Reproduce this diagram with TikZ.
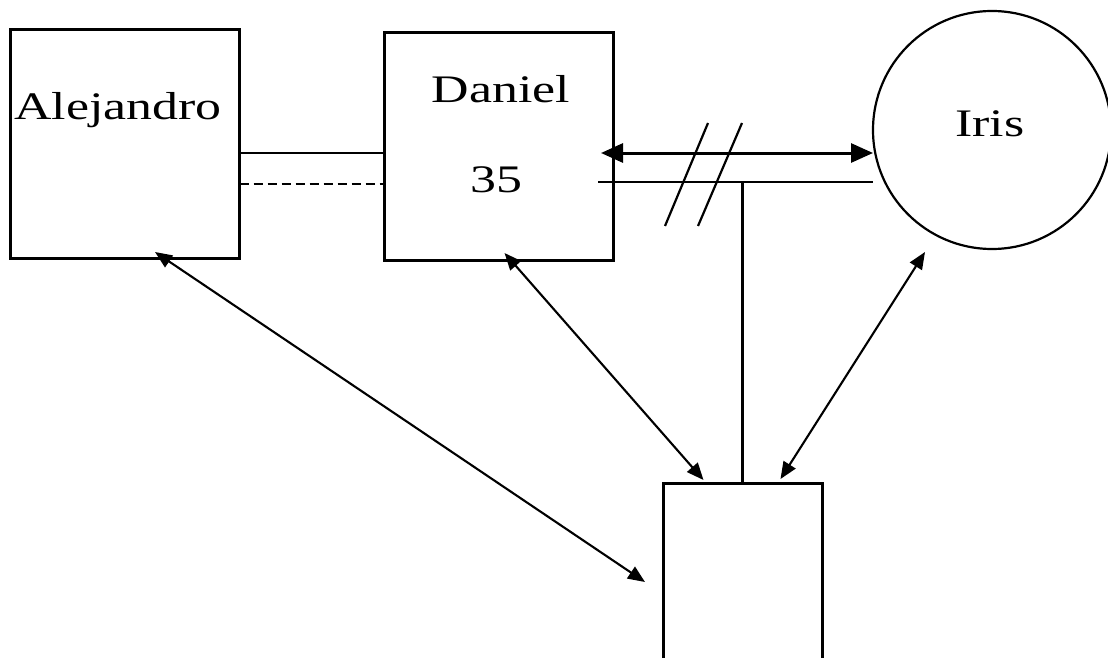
\documentclass[tikz,border=0pt]{standalone}
\usepackage{fontspec}
\setmainfont{Liberation Serif}
\usepackage{graphicx}
\usetikzlibrary{calc,arrows.meta}
\newcommand{\wide}[1]{\scalebox{1.33}[1]{#1}}

\begin{document}
\begin{tikzpicture}[x=1pt, y=-1pt,
    box/.style={draw, line width=3pt, inner sep=0pt, outer sep=0pt},
    nametext/.style={inner sep=0pt, font=\fontsize{39pt}{47pt}\selectfont},
    link/.style={line width=2pt},
    twoway/.style={{Triangle[length=17pt, width=14pt]}-{Triangle[length=17pt, width=14pt]}, line width=2.1pt}]
    % 画布范围 (底部方框被裁掉)
    \clip (0,0) rectangle (1108,658);

    % 三个方框和圆
    \node[box, anchor=north west, minimum width=229pt, minimum height=228pt] (alejandro) at (10.5,30) {};
    \node[box, anchor=north west, minimum width=229pt, minimum height=227pt] (daniel) at (384,33) {};
    \node[box, anchor=north, minimum width=159pt, minimum height=220pt] (blank) at (742.5,483) {};
    \node[draw, circle, line width=2.2pt, minimum size=238pt, inner sep=0pt, outer sep=0pt] (iris) at (992,130) {};

    % 文字
    \node[nametext, anchor=base west] (alejandroname) at (14,120) {\wide{Alejandro}};
    \node[nametext, anchor=base] (danielname) at (501,103) {\wide{Daniel}};
    \node[nametext, anchor=base] (danielage) at (496,192) {\wide{35}};
    \node[nametext, anchor=base] (irisname) at (990,136) {\wide{Iris}};

    % Alejandro 与 Daniel 之间的两条线
    \draw[link, line width=2.6pt] (alejandro.east |- 0,153) -- (daniel.west |- 0,153);
    \draw[link, dash pattern=on 9pt off 5pt] (alejandro.east |- 0,184) -- (daniel.west |- 0,184);

    % Daniel 与 Iris 之间
    \draw[twoway, line width=3pt, {Triangle[length=22pt, width=19pt]}-{Triangle[length=22pt, width=19pt]}]
        ($(daniel.east |- 0,153)+(-12,0)$) -- (iris.west |- 0,153);
    \draw[line width=1.5pt] ($(daniel.east |- 0,182)+(-15,0)$) -- (iris.west |- 0,182);
    \draw[line width=2.2pt] (665,226) -- (708,123);
    \draw[line width=2.2pt] (698,226) -- (742,123);

    % 竖线连到下方方框
    \draw[line width=3pt] (blank.north |- 0,182) -- (blank.north);

    % 三条双向箭头
    \draw[twoway] ($(alejandro.south)+(30,-6)$) -- ($(blank.west)+(-18,-11)$);
    \draw[twoway] ($(daniel.south)+(6,-7)$) -- ($(blank.north)+(-39,-3)$);
    \draw[twoway] ($(iris.south)+(-67,3)$) -- ($(blank.north)+(38,-4)$);
\end{tikzpicture}
\end{document}
